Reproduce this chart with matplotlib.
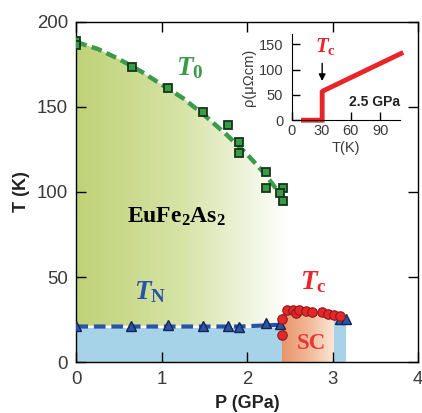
import numpy as np
import matplotlib
matplotlib.use("Agg")
import matplotlib.pyplot as plt
from matplotlib.colors import LinearSegmentedColormap
from matplotlib.patches import Polygon, Rectangle

plt.rcParams['mathtext.fontset'] = 'custom'
plt.rcParams['mathtext.rm'] = 'Liberation Serif:bold'
plt.rcParams['mathtext.bf'] = 'Liberation Serif:bold'
plt.rcParams['mathtext.it'] = 'Liberation Serif:bold:italic'

NARROW = ['Liberation Sans Narrow', 'Liberation Sans', 'DejaVu Sans']
GREY = '#3a3a3a'

# ---------------- data ----------------
T0_P = [0.0, 0.0, 0.647, 1.068, 1.478, 1.77, 1.899, 1.899, 2.218, 2.218, 2.413, 2.38, 2.413]
T0_T = [188.5, 186.5, 173.6, 161.3, 146.8, 139.1, 129.2, 123.1, 111.5, 102.2, 102.2, 99.2, 94.7]

T0_fit_P = [0.0, 0.25, 0.5, 0.75, 1.0, 1.25, 1.5, 1.75, 2.0, 2.2, 2.35]
T0_fit_T = [188, 184, 178, 171, 163, 155, 145, 134, 122, 111, 101]

TN_P = [0.0, 0.64, 1.07, 1.48, 1.77, 1.90, 2.22, 2.38, 3.08, 3.15]
TN_T = [21.2, 21.3, 21.9, 21.3, 21.3, 20.7, 23.0, 22.5, 25.4, 25.6]

TN_fit_P = [0.0, 1.9, 2.38]
TN_fit_T = [21.0, 21.0, 22.0]

Tc_P = [2.41, 2.41, 2.46, 2.54, 2.575, 2.61, 2.69, 2.76, 2.88, 2.95, 3.01, 3.08]
Tc_T = [16.0, 25.5, 30.7, 30.7, 29.0, 30.5, 29.9, 29.3, 29.3, 28.6, 27.8, 27.0]

inset_T = [12, 31, 31, 32, 111]
inset_rho = [0, 0, 56, 58, 132]

x_ticks = [0, 1, 2, 3, 4]
y_ticks = [0, 50, 100, 150, 200]
inset_xticks = [0, 30, 60, 90]
inset_yticks = [0, 50, 100, 150]

# ---------------- figure ----------------
fig = plt.figure(figsize=(4.22, 4.13), dpi=100)
ax = fig.add_axes([0.181, 0.1228, 0.810, 0.8247])
ax.set_xlim(0, 4)
ax.set_ylim(0, 200)

# green gradient region (bounded by T0 guide, TN line)
green_right = 2.49
green_poly = list(zip(T0_fit_P, T0_fit_T)) + [(green_right, 92), (green_right, 21.5), (0, 21.5)]
cmap_g = LinearSegmentedColormap.from_list('g', ['#c0d277', '#d6e3a6', '#ffffff'])
grad = np.linspace(0, 1, 256).reshape(1, -1)
im = ax.imshow(grad, extent=[0, green_right, 0, 200], aspect='auto', cmap=cmap_g,
               origin='lower', zorder=1, interpolation='bicubic')
pg = Polygon(green_poly, closed=True, transform=ax.transData, facecolor='none', edgecolor='none')
ax.add_patch(pg)
im.set_clip_path(pg)

# blue AFM regions
blue = '#a7d3e8'
ax.add_patch(Rectangle((0, 0), 2.41, 20, facecolor=blue, edgecolor='none', zorder=1))
ax.add_patch(Rectangle((3.0, 0), 0.16, 25, facecolor=blue, edgecolor='none', zorder=1))

# SC orange gradient
cmap_o = LinearSegmentedColormap.from_list('o', ['#e8946a', '#f2b896', '#fbe6d6'])
im2 = ax.imshow(grad, extent=[2.41, 3.01, 0, 28], aspect='auto', cmap=cmap_o,
                origin='lower', zorder=1.5, interpolation='bicubic')
ax.set_xlim(0, 4)
ax.set_ylim(0, 200)

# guide lines
ax.plot(T0_fit_P, T0_fit_T, color='#3c9a4c', lw=3.2, linestyle=(0, (2.4, 1.2)), zorder=3,
        solid_capstyle='butt', dash_capstyle='butt')
ax.plot(TN_fit_P, TN_fit_T, color='#2a52a8', lw=3.0, linestyle=(0, (2.8, 1.4)), zorder=3,
        dash_capstyle='butt')

# markers
ax.plot(T0_P, T0_T, 's', ms=5.3, mfc='#3a9a48', mec='#15351a', mew=1.3, ls='none', zorder=5)
ax.plot(TN_P, TN_T, '^', ms=6.5, mfc='#2a55ad', mec='#14254f', mew=1.0, ls='none', zorder=5)
ax.plot(Tc_P, Tc_T, 'o', ms=6.8, mfc='#e8262a', mec='#8a1a1a', mew=0.8, ls='none', zorder=6)

# text labels
ax.text(1.33, 173, r'$\mathit{T}_{\mathbf{0}}$', color='#3a9a48', fontsize=19.5, ha='center', va='center')
ax.text(1.17, 86, r'$\mathrm{EuFe_2As_2}$', color='black', fontsize=17, ha='center', va='center')
ax.text(0.86, 41, r'$\mathit{T}_{\mathbf{N}}$', color='#2a52a8', fontsize=19.5, ha='center', va='center')
ax.text(2.77, 47, r'$\mathit{T}_{\mathbf{c}}$', color='#e8262a', fontsize=19.5, ha='center', va='center')
ax.text(2.75, 11, 'SC', color='#e23a3a', fontsize=16.5, fontweight='bold', family='Liberation Serif',
        ha='center', va='center', zorder=4)

# axes styling
ax.set_xticks(x_ticks)
ax.set_yticks(y_ticks)
ax.tick_params(direction='in', length=7, width=1, top=True, right=True, pad=6,
               labelsize=13.4, labelcolor=GREY)
for lab in ax.get_xticklabels() + ax.get_yticklabels():
    lab.set_family(NARROW)
for s in ax.spines.values():
    s.set_linewidth(1.0)
ax.set_xlabel('P (GPa)', fontsize=13, fontweight='bold', family='Liberation Sans', color='#222222', labelpad=5.5)
ax.set_ylabel('T (K)', fontsize=13, fontweight='bold', family='Liberation Sans', color='#222222', labelpad=5)

# ---------------- inset ----------------
axi = fig.add_axes([0.691, 0.709, 0.257, 0.208])
axi.set_facecolor('none')
axi.set_xlim(0, 110)
axi.set_ylim(0, 170)
axi.plot(inset_T, inset_rho, color='#e8262a', lw=3.5, solid_joinstyle='miter', clip_on=False)
axi.spines['top'].set_visible(False)
axi.spines['right'].set_visible(False)
axi.set_xticks(inset_xticks)
axi.set_yticks(inset_yticks)
axi.tick_params(direction='in', length=6, width=1, labelsize=10.5, labelcolor=GREY)
axi.tick_params(axis='y', pad=6)
axi.tick_params(axis='x', pad=3)
for lab in axi.get_xticklabels() + axi.get_yticklabels():
    lab.set_family(NARROW)
axi.set_xlabel('T(K)', fontsize=10.5, family=NARROW, color=GREY, labelpad=2)
axi.set_ylabel('ρ(μΩcm)', fontsize=10.5, family=NARROW, color=GREY, labelpad=2)
axi.text(34, 146, r'$\mathit{T}_{\mathbf{c}}$', color='#e8262a', fontsize=15, ha='center', va='center')
axi.annotate('', xy=(31, 72), xytext=(31, 118),
             arrowprops=dict(arrowstyle='-|>', color='black', lw=1, mutation_scale=10))
axi.text(84, 36, '2.5 GPa', fontsize=10, fontweight='bold', family='Liberation Sans',
         color='#222222', ha='center', va='center')

fig.savefig('out.png', dpi=100)
